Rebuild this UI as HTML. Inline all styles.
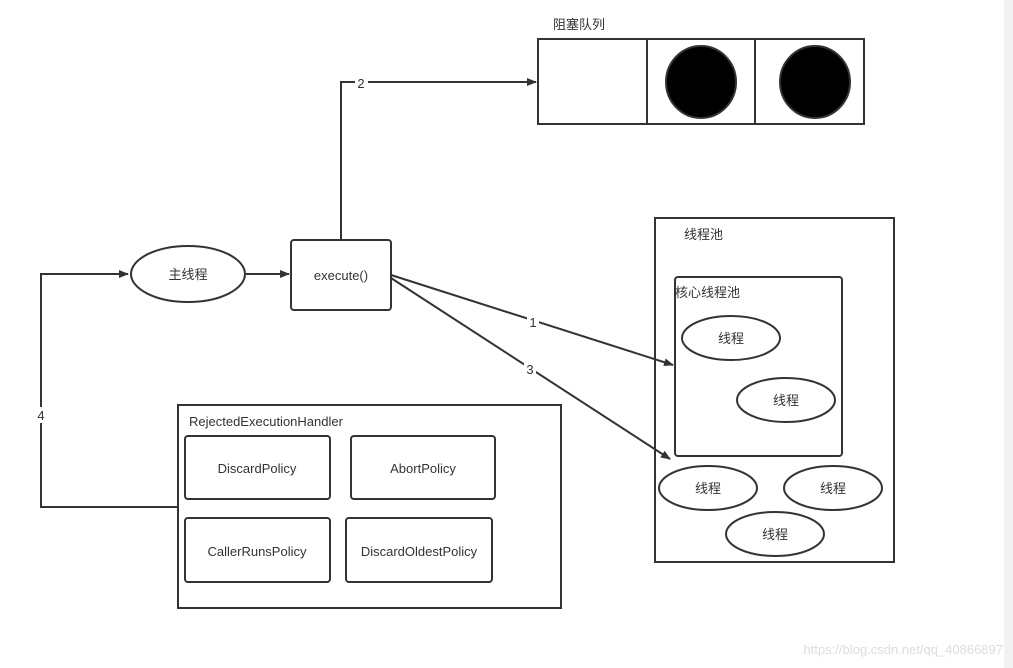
<!DOCTYPE html>
<html><head><meta charset="utf-8"><style>
html,body{margin:0;padding:0;background:#fff;}
svg{display:block;}
text{font-family:"Liberation Sans","Noto Sans CJK SC",sans-serif;font-size:13px;fill:#333;}
</style></head><body>
<svg width="1013" height="668" viewBox="0 0 1013 668" xmlns="http://www.w3.org/2000/svg">
<defs><marker id="a" markerWidth="10" markerHeight="8" refX="9" refY="4" orient="auto" markerUnits="userSpaceOnUse"><path d="M0,0 L10,4 L0,8 z" fill="#333"/></marker></defs>
<rect x="1004" y="0" width="9" height="668" fill="#f2f2f2"/>
<g stroke="#333" stroke-width="2" fill="none">
<rect x="538" y="39" width="326" height="85"/>
<line x1="647" y1="39" x2="647" y2="124"/>
<line x1="755" y1="39" x2="755" y2="124"/>
<ellipse cx="701" cy="82" rx="35" ry="36" fill="#000"/>
<ellipse cx="815" cy="82" rx="35" ry="36" fill="#000"/>
<path d="M341,240 V82 H536" marker-end="url(#a)"/>
<rect x="291" y="240" width="100" height="70" rx="3" fill="#fff"/>
<ellipse cx="188" cy="274" rx="57" ry="28" fill="#fff"/>
<line x1="246" y1="274" x2="289" y2="274" marker-end="url(#a)"/>
<rect x="655" y="218" width="239" height="344"/>
<rect x="675" y="277" width="167" height="179" rx="3"/>
<ellipse cx="731" cy="338" rx="49" ry="22"/>
<ellipse cx="786" cy="400" rx="49" ry="22"/>
<ellipse cx="708" cy="488" rx="49" ry="22"/>
<ellipse cx="833" cy="488" rx="49" ry="22"/>
<ellipse cx="775" cy="534" rx="49" ry="22"/>
<line x1="391" y1="275" x2="673" y2="365" marker-end="url(#a)"/>
<line x1="391" y1="278" x2="670" y2="459" marker-end="url(#a)"/>
<rect x="178" y="405" width="383" height="203"/>
<rect x="185" y="436" width="145" height="63" rx="3"/>
<rect x="351" y="436" width="144" height="63" rx="3"/>
<rect x="185" y="518" width="145" height="64" rx="3"/>
<rect x="346" y="518" width="146" height="64" rx="3"/>
<path d="M178,507 H41 V274 H128" marker-end="url(#a)"/>
</g>
<rect x="355" y="75" width="13" height="16" fill="#fff"/>
<rect x="527" y="314" width="12" height="16" fill="#fff"/>
<rect x="524" y="361" width="12" height="16" fill="#fff"/>
<rect x="35" y="407" width="12" height="16" fill="#fff"/>
<text x="553" y="29">阻塞队列</text>
<text x="361" y="88" text-anchor="middle">2</text>
<text x="533" y="327" text-anchor="middle">1</text>
<text x="530" y="374" text-anchor="middle">3</text>
<text x="41" y="420" text-anchor="middle">4</text>
<text x="341" y="280" text-anchor="middle" font-size="14">execute()</text>
<text x="188" y="279" text-anchor="middle">主线程</text>
<text x="684" y="239">线程池</text>
<text x="675" y="297">核心线程池</text>
<text x="731" y="343" text-anchor="middle">线程</text>
<text x="786" y="405" text-anchor="middle">线程</text>
<text x="708" y="493" text-anchor="middle">线程</text>
<text x="833" y="493" text-anchor="middle">线程</text>
<text x="775" y="539" text-anchor="middle">线程</text>
<text x="189" y="426">RejectedExecutionHandler</text>
<text x="257" y="473" text-anchor="middle">DiscardPolicy</text>
<text x="423" y="473" text-anchor="middle">AbortPolicy</text>
<text x="257" y="556" text-anchor="middle">CallerRunsPolicy</text>
<text x="419" y="556" text-anchor="middle">DiscardOldestPolicy</text>
<text x="1003" y="654" text-anchor="end" font-size="15" style="fill:#ddd">https://blog.csdn.net/qq_40866897</text>
</svg>
</body></html>
